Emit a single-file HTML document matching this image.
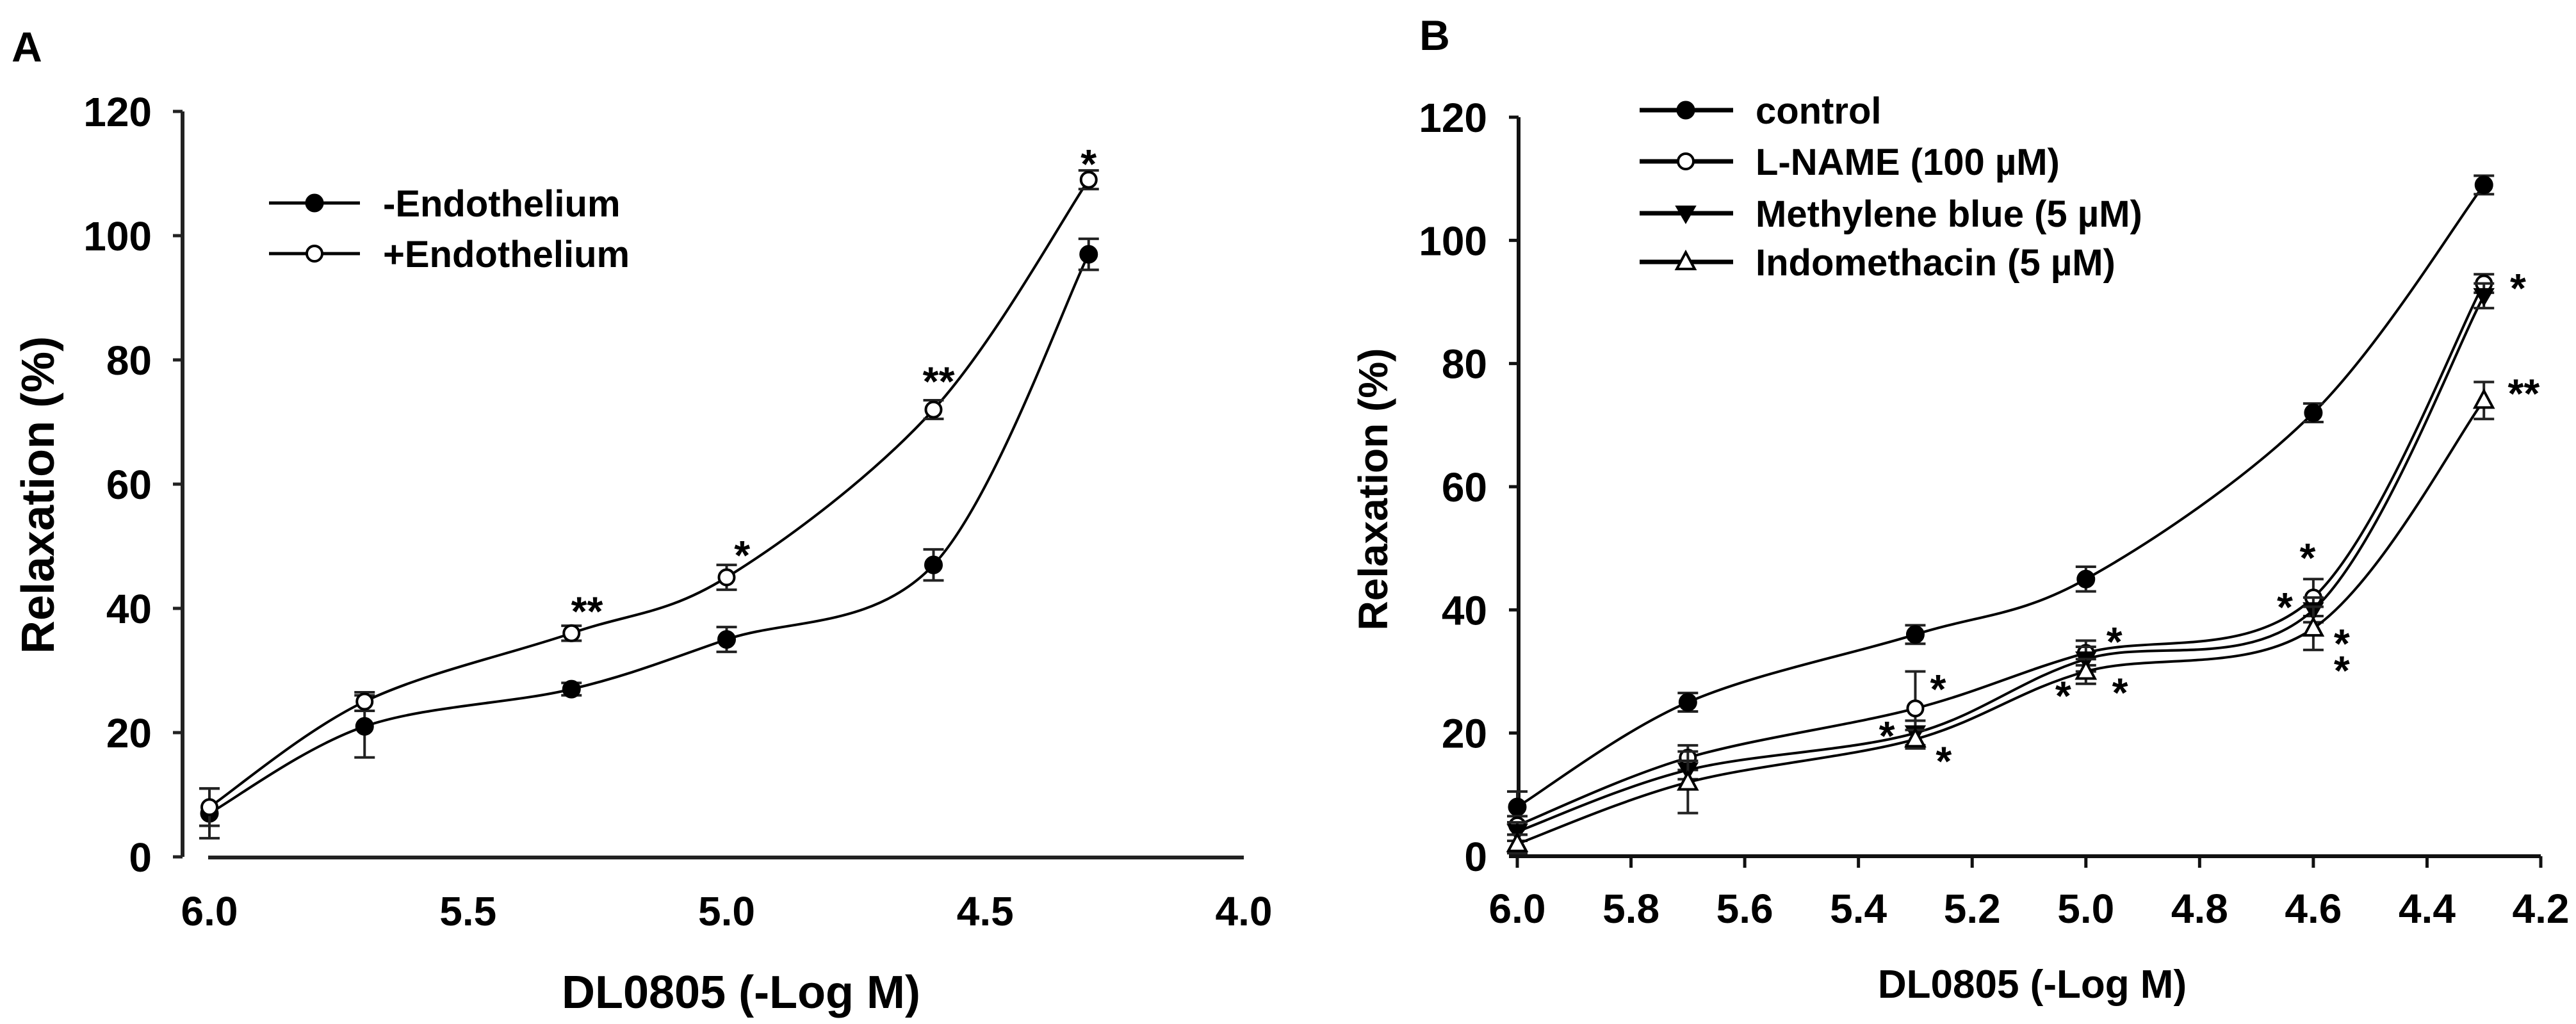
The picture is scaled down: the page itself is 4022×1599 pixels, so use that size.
<!DOCTYPE html>
<html><head><meta charset="utf-8">
<style>
html,body{margin:0;padding:0;background:#fff;}
svg{display:block;}
text{font-family:"Liberation Sans",Arial,sans-serif;font-weight:bold;fill:#000;}
</style></head>
<body>
<svg id="fig" width="4022" height="1599" viewBox="0 0 4022 1599" xmlns="http://www.w3.org/2000/svg">
<rect width="4022" height="1599" fill="#fff"/>
</svg>
<script>
// ---------- Panel A data ----------
const xA = [6.0, 5.7, 5.3, 5.0, 4.6, 4.3];
const minusEndo = [7, 21, 27, 35, 47, 97];
const minusEndoErr = [4, 5, 1, 2, 2.5, 2.5];
const plusEndo = [8, 25, 36, 45, 72, 109];
const plusEndoErr = [3, 1.5, 1.2, 2, 1.5, 1.5];
const xTicksA = [6.0, 5.5, 5.0, 4.5, 4.0];
const xTickLabelsA = ["6.0", "5.5", "5.0", "4.5", "4.0"];
const yTicks = [0, 20, 40, 60, 80, 100, 120];
const starsA_x = [5.27, 4.97, 4.59, 4.30];
const starsA_y = [41, 50, 78, 113];
const starsA_t = ["**", "*", "**", "*"];
// ---------- Panel B data ----------
const xB = [6.0, 5.7, 5.3, 5.0, 4.6, 4.3];
const control = [8, 25, 36, 45, 72, 109];
const controlErr = [2.5, 1.5, 1.5, 2, 1.5, 1.5];
const lname = [5, 16, 24, 33, 42, 93];
const lnameErr = [1.5, 2, 6, 2, 3, 1.5];
const methylene = [4, 14, 20, 32, 40, 91];
const methyleneErr = [1.5, 1.5, 2, 2, 2, 2];
const indo = [2, 12, 19, 30, 37, 74];
const indoErr = [1.5, 5, 1.5, 2, 3.5, 3];
const xTicksB = [6.0, 5.8, 5.6, 5.4, 5.2, 5.0, 4.8, 4.6, 4.4, 4.2];
const xTickLabelsB = ["6.0", "5.8", "5.6", "5.4", "5.2", "5.0", "4.8", "4.6", "4.4", "4.2"];
const starsB_x = [4.24, 4.23, 4.61, 4.65, 4.55, 4.55, 4.95, 5.04, 4.94, 5.26, 5.35, 5.25];
const starsB_y = [93.7, 76.6, 49.9, 41.9, 36, 31.6, 36.3, 27.5, 28, 28.6, 21, 16.9];
const starsB_t = ["*", "**", "*", "*", "*", "*", "*", "*", "*", "*", "*", "*"];

const NS = "http://www.w3.org/2000/svg";
const svg = document.getElementById("fig");
function mk(tag, attrs, parent) {
  const e = document.createElementNS(NS, tag);
  for (const k in attrs) e.setAttribute(k, attrs[k]);
  (parent || svg).appendChild(e);
  return e;
}
function txt(s, x, y, size, anchor, parent, extra) {
  const t = mk("text", Object.assign({x: x, y: y, "font-size": size, "text-anchor": anchor || "middle"}, extra || {}), parent);
  t.textContent = s;
  return t;
}
function spline(pts) {
  let d = "M" + pts[0][0] + "," + pts[0][1];
  for (let i = 0; i < pts.length - 1; i++) {
    const p0 = pts[i - 1] || pts[i], p1 = pts[i], p2 = pts[i + 1], p3 = pts[i + 2] || pts[i + 1];
    const c1x = p1[0] + (p2[0] - p0[0]) / 6, c1y = p1[1] + (p2[1] - p0[1]) / 6;
    const c2x = p2[0] - (p3[0] - p1[0]) / 6, c2y = p2[1] - (p3[1] - p1[1]) / 6;
    d += " C" + c1x + "," + c1y + " " + c2x + "," + c2y + " " + p2[0] + "," + p2[1];
  }
  return d;
}
function marker(kind, cx, cy, parent) {
  let m;
  if (kind === "filled") m = mk("circle", {cx: cx, cy: cy, r: 13, fill: "#000", stroke: "#000", "stroke-width": 3}, parent);
  else if (kind === "open") m = mk("circle", {cx: cx, cy: cy, r: 12, fill: "#fff", stroke: "#000", "stroke-width": 4}, parent);
  else if (kind === "down") m = mk("polygon", {points: (cx - 15) + "," + (cy - 11) + " " + (cx + 15) + "," + (cy - 11) + " " + cx + "," + (cy + 15), fill: "#000", stroke: "#000", "stroke-width": 2}, parent);
  else m = mk("polygon", {points: (cx - 14) + "," + (cy + 11) + " " + (cx + 14) + "," + (cy + 11) + " " + cx + "," + (cy - 15), fill: "#fff", stroke: "#000", "stroke-width": 4}, parent);
  return m;
}
function series(g, xs, ys, errs, sx, sy, kind, lw) {
  const pts = xs.map((x, i) => [sx(x), sy(ys[i])]);
  const p = mk("path", {d: spline(pts), fill: "none", stroke: "#000", "stroke-width": lw}, g);
  
  
  xs.forEach((x, i) => {
    const cx = sx(x), top = sy(ys[i] + errs[i]), bot = sy(ys[i] - errs[i]);
    const eb = mk("path", {d: "M" + cx + "," + top + " V" + bot + " M" + (cx - 16) + "," + top + " h32 M" + (cx - 16) + "," + bot + " h32", stroke: "#222", "stroke-width": 4, fill: "none"}, g);
    
    
    const m = marker(kind, cx, sy(ys[i]), g);
    
    
  });
}

// ================= PANEL A =================
const gA = mk("g", { });
const AX0 = 327, AX1 = 1942, AY0 = 1338, AY120 = 174;
const sxA = v => AX0 + (6.0 - v) / 2.0 * (AX1 - AX0);
const syA = v => AY0 - v / 120 * (AY0 - AY120);
txt("A", 42, 96, 66, "middle", gA, { });
mk("line", {x1: 285, y1: AY120, x2: 285, y2: AY0, stroke: "#222", "stroke-width": 6,  }, gA);
mk("line", {x1: 325, y1: AY0 + 1, x2: AX1, y2: AY0 + 1, stroke: "#222", "stroke-width": 6,  }, gA);
yTicks.forEach(v => {
  const tk = mk("line", {x1: 270, x2: 285, y1: syA(v), y2: syA(v), stroke: "#222", "stroke-width": 5}, gA);
  
  
  const t = txt(String(v), 237, syA(v) + 23, 64, "end", gA);
  
  
});
xTicksA.forEach((v, i) => {
  const t = txt(xTickLabelsA[i], sxA(v), 1445, 64, "middle", gA);
  
  
});
txt("Relaxation (%)", 0, 0, 72, "middle", gA, {transform: "translate(84,773) rotate(-90)",  });
txt("DL0805 (-Log M)", 1157, 1574, 72, "middle", gA, { });
series(gA, xA, minusEndo, minusEndoErr, sxA, syA, "filled", 4);
series(gA, xA, plusEndo, plusEndoErr, sxA, syA, "open", 4);
starsA_x.forEach((x, i) => {
  const t = txt(starsA_t[i], sxA(x), syA(starsA_y[i]) + 36, 64, "middle", gA);
  
  
});
// legend A
const legA = mk("g", { }, gA);
[["filled", "-Endothelium", 317], ["open", "+Endothelium", 396]].forEach(r => {
  const g = mk("g", {}, legA);
  
  
  mk("line", {x1: 420, x2: 562, y1: r[2], y2: r[2], stroke: "#000", "stroke-width": 5}, g);
  marker(r[0], 491, r[2], g);
  txt(r[1], 598, r[2] + 21, 58, "start", g);
});

// ================= PANEL B =================
const gB = mk("g", { });
const BX0 = 2369, BX1 = 3967, BY0 = 1337, BY120 = 183;
const sxB = v => BX0 + (6.0 - v) / 1.8 * (BX1 - BX0);
const syB = v => BY0 - v / 120 * (BY0 - BY120);
txt("B", 2240, 78, 66, "middle", gB, { });
mk("line", {x1: 2371, y1: BY120, x2: 2371, y2: BY0, stroke: "#111", "stroke-width": 6,  }, gB);
mk("line", {x1: 2356, y1: BY0, x2: BX1, y2: BY0, stroke: "#111", "stroke-width": 6,  }, gB);
yTicks.forEach(v => {
  const tk = mk("line", {x1: 2356, x2: 2371, y1: syB(v), y2: syB(v), stroke: "#111", "stroke-width": 5}, gB);
  
  
  const t = txt(String(v), 2322, syB(v) + 23, 64, "end", gB);
  
  
});
xTicksB.forEach((v, i) => {
  const tk = mk("line", {x1: sxB(v), x2: sxB(v), y1: BY0, y2: BY0 + 18, stroke: "#111", "stroke-width": 5}, gB);
  
  
  const t = txt(xTickLabelsB[i], sxB(v), 1441, 64, "middle", gB);
  
  
});
txt("Relaxation (%)", 0, 0, 64, "middle", gB, {transform: "translate(2166,764) rotate(-90)",  });
txt("DL0805 (-Log M)", 3173, 1558, 62, "middle", gB, { });
series(gB, xB, control, controlErr, sxB, syB, "filled", 4);
series(gB, xB, lname, lnameErr, sxB, syB, "open", 4);
series(gB, xB, methylene, methyleneErr, sxB, syB, "down", 4);
series(gB, xB, indo, indoErr, sxB, syB, "up", 4);
starsB_x.forEach((x, i) => {
  const t = txt(starsB_t[i], sxB(x), syB(starsB_y[i]) + 36, 64, "middle", gB);
  
  
});
const legB = mk("g", { }, gB);
[["filled", "control", 172], ["open", "L-NAME (100 µM)", 252], ["down", "Methylene blue (5 µM)", 333], ["up", "Indomethacin (5 µM)", 409]].forEach(r => {
  const g = mk("g", {}, legB);
  
  
  mk("line", {x1: 2560, x2: 2706, y1: r[2], y2: r[2], stroke: "#000", "stroke-width": 7}, g);
  marker(r[0], 2632, r[2], g);
  txt(r[1], 2741, r[2] + 21, 58, "start", g);
});
</script>
</body></html>
